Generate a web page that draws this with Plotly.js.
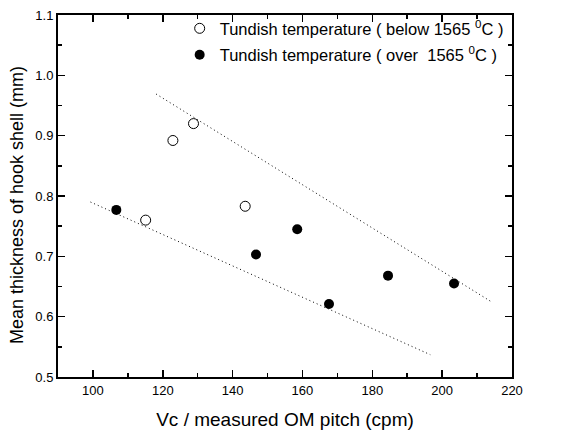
<!DOCTYPE html>
<html>
<head>
<meta charset="utf-8">
<script src="https://cdn.plot.ly/plotly-3.0.1.min.js"></script>
<style>html,body{margin:0;padding:0;background:#fff;}#chart{width:568px;height:439px;}</style>
</head>
<body>
<div id="chart"></div>
<script>
// Open circles: tundish temperature below 1565 °C
const belowX = [115.1, 122.9, 128.8, 143.6];
const belowY = [0.760, 0.892, 0.920, 0.783];
// Filled circles: tundish temperature over 1565 °C
const overX = [106.7, 146.7, 158.5, 167.6, 184.5, 203.4];
const overY = [0.777, 0.703, 0.745, 0.621, 0.668, 0.655];
// Dotted guide lines
const upperLineX = [118.1, 214.0];
const upperLineY = [0.969, 0.625];
const lowerLineX = [99.3, 196.6];
const lowerLineY = [0.790, 0.537];

const belowName = 'Tundish temperature ( below 1565 <sup>0</sup>C )';
const overName = 'Tundish temperature ( over  1565 <sup>0</sup>C )';
const xTitle = 'Vc / measured OM pitch (cpm)';
const yTitle = 'Mean thickness of hook shell (mm)';

const traces = [
  {x: upperLineX, y: upperLineY, mode: 'lines', showlegend: false,
   line: {color: '#000', width: 1, dash: '1px,3px'}, hoverinfo: 'skip'},
  {x: lowerLineX, y: lowerLineY, mode: 'lines', showlegend: false,
   line: {color: '#000', width: 1, dash: '1px,3px'}, hoverinfo: 'skip'},
  {x: belowX, y: belowY, mode: 'markers', name: belowName, legendgroup: 'a',
   marker: {symbol: 'circle-open', size: 10, color: '#000', line: {width: 1, color: '#000'}}},
  {x: overX, y: overY, mode: 'markers', name: overName, legendgroup: 'b',
   marker: {symbol: 'circle', size: 10, color: '#000'}}
];

const axisCommon = {
  showgrid: false, zeroline: false, showline: true, linecolor: '#000', linewidth: 2,
  mirror: 'allticks', ticks: 'inside', ticklen: 7, tickwidth: 1.5, tickcolor: '#000',
  tickfont: {family: 'Liberation Sans, Arial, sans-serif', size: 13, color: '#000'}
};

const layout = {
  width: 568, height: 439,
  margin: {l: 58, r: 56, t: 14, b: 62},
  paper_bgcolor: '#fff', plot_bgcolor: '#fff',
  font: {family: 'Liberation Sans, Arial, sans-serif', color: '#000'},
  xaxis: Object.assign({}, axisCommon, {
    range: [90, 220], dtick: 20, tick0: 100,
    minor: {dtick: 10, ticks: 'inside', ticklen: 4, tickcolor: '#000', tickwidth: 1.5},
    title: {text: xTitle, font: {size: 19}, standoff: 16}
  }),
  yaxis: Object.assign({}, axisCommon, {
    range: [0.5, 1.1], dtick: 0.1, tick0: 0.5, tickformat: '.1f',
    minor: {dtick: 0.05, ticks: 'inside', ticklen: 4, tickcolor: '#000', tickwidth: 1.5}
  }),
  annotations: [{
    text: yTitle, textangle: -90, showarrow: false,
    xref: 'paper', yref: 'paper', x: -0.089, y: 0.474,
    xanchor: 'center', yanchor: 'middle',
    font: {size: 18, color: '#000', family: 'Liberation Sans, Arial, sans-serif'}
  }],
  legend: {x: 0.268, y: 1.008, xanchor: 'left', yanchor: 'top', bgcolor: 'rgba(0,0,0,0)',
           font: {size: 16.5}, traceorder: 'grouped', tracegroupgap: 2},
  showlegend: true
};

Plotly.newPlot('chart', traces, layout, {displayModeBar: false, staticPlot: true});
</script>
</body>
</html>
